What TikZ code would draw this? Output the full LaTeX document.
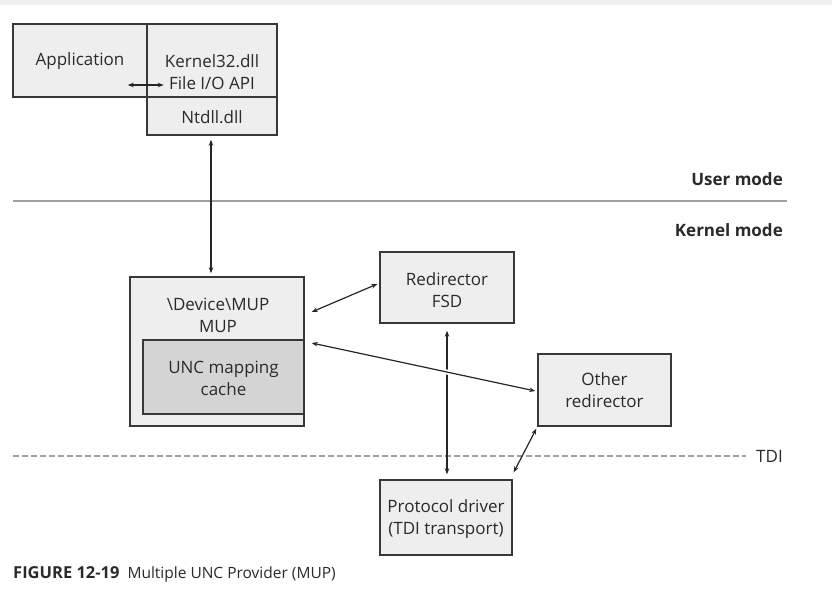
\documentclass[tikz,border=0pt]{standalone}
\usepackage{fontspec}
\setmainfont{Open Sans}
\usetikzlibrary{arrows.meta,calc}
\definecolor{bordc}{HTML}{383838}
\definecolor{boxc}{HTML}{EEEEEE}
\definecolor{cachec}{HTML}{D4D4D4}
\definecolor{txtc}{HTML}{2A2A2A}
\definecolor{linec}{HTML}{A0A0A0}
\begin{document}
\begin{tikzpicture}[x=1pt,y=-1pt,
  box/.style={draw=bordc, fill=boxc, line width=1.4pt, inner sep=0pt},
  lbl/.style={text=txtc, align=center, inner sep=0pt, font=\fontsize{17}{22}\selectfont},
  mode/.style={text=txtc, anchor=east, inner sep=0pt, font=\fontsize{17}{20}\selectfont\bfseries},
  conn/.style={draw=black!85, line width=1.2pt, {Stealth[length=6pt,width=4.5pt]}-{Stealth[length=6pt,width=4.5pt]}}
]
\useasboundingbox (0,0) rectangle (832,589);
\fill[black!6] (0,0) rectangle (832,5);

% user-mode boxes
\node[box, minimum width=134pt, minimum height=73pt] (app) at (80,60.5) {};
\node[lbl] (applbl) at (80,61) {Application};
\node[box, minimum width=130pt, minimum height=73pt] (k32) at (212,60.5) {};
\node[lbl] (k32lbl) at (212,72) {Kernel32.dll\\File I/O API};
\node[box, minimum width=130pt, minimum height=38pt] (ntdll) at (212,116) {};
\node[lbl] (ntdlllbl) at (212,117) {Ntdll.dll};

% mode separators
\draw[linec, line width=1.2pt] (13,201) coordinate (um0) -- (787,201) coordinate (um1);
\node[mode] (umode) at (783,179) {User mode};
\node[mode] (kmode) at (783,230) {Kernel mode};
\draw[linec, line width=1.2pt, dash pattern=on 6pt off 3pt] (13,456) coordinate (tdi0) -- (746,456) coordinate (tdi1);
\node[lbl, anchor=west] (tdi) at (756,456) {TDI};

% kernel boxes
\node[box, minimum width=174pt, minimum height=149pt] (mup) at (217,351.5) {};
\node[lbl] (muplbl) at (218,315) {\textbackslash Device\textbackslash MUP\\MUP};
\node[box, fill=cachec, minimum width=161pt, minimum height=74pt] (unc) at (223.5,377) {};
\node[lbl] (unclbl) at (223.5,378) {UNC mapping\\cache};
\node[box, minimum width=134pt, minimum height=71pt] (redir) at (447,287.5) {};
\node[lbl] (redirlbl) at (447,290) {Redirector\\FSD};
\node[box, minimum width=133pt, minimum height=72pt] (other) at (604.5,390) {};
\node[lbl] (otherlbl) at (604.5,390) {Other\\redirector};
\node[box, minimum width=132pt, minimum height=75pt] (proto) at (446,517.5) {};
\node[lbl] (protolbl) at (446,519) {Protocol driver\\(TDI transport)};

% connectors
\draw[conn] ($(app.east)+(-20,24.5)$) -- ($(app.east)+(16,24.5)$);
\draw[conn, shorten <=4pt, shorten >=3pt] (ntdll.south -| 211,0) -- (mup.north -| 211,0);
\draw[conn] ($(mup.east)+(7,-39.5)$) -- ($(redir.west)+(-2,-3.5)$);
\draw[conn, shorten <=7pt, shorten >=5pt] (redir.south) -- (redir.south |- proto.north);
\draw[conn, preaction={draw=white, line width=5pt, -}] ($(mup.east)+(7,-8.5)$) -- ($(other.west)+(-2,1)$);
\draw[conn] ($(other.south west)+(-1,2)$) -- ($(proto.north east)+(1,-7)$);

% caption
\node[anchor=west, inner sep=0pt, text=txtc, font=\fontsize{15.5}{18}\selectfont] (cap) at (13,574)
  {{\fontsize{16.5}{18}\selectfont\bfseries FIGURE 12-19}\hspace{8pt}Multiple UNC Provider (MUP)};
\end{tikzpicture}
\end{document}
